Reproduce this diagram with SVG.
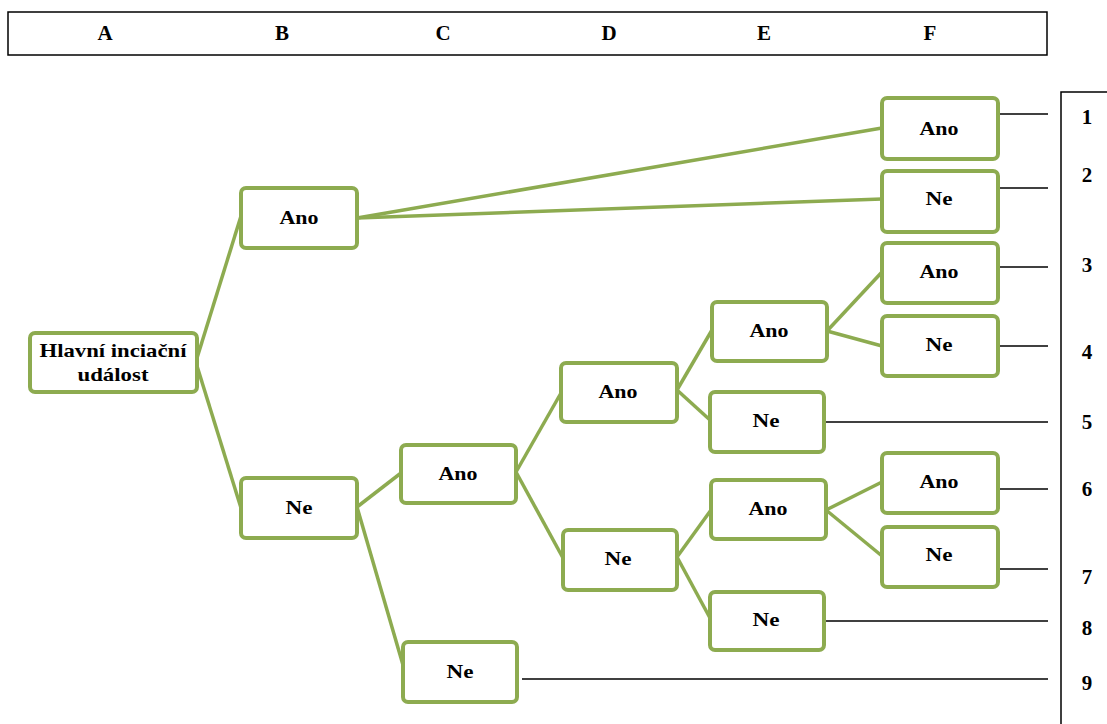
<svg xmlns="http://www.w3.org/2000/svg" width="1107" height="724" viewBox="0 0 1107 724" font-family="Liberation Serif, DejaVu Serif, serif" font-weight="bold">
<style>
.n rect{fill:#fff;stroke:#8dab50;stroke-width:4}
.t{font-size:19px;fill:#000;text-anchor:middle}
.h{font-size:21px;fill:#000;text-anchor:middle}
.g line{stroke:#8dab50;stroke-width:3.5}
.k line{stroke:#000;stroke-width:1.3}
</style>
<rect width="1107" height="724" fill="#fff"/>
<g id="header">
<rect x="8" y="12" width="1039" height="43" fill="none" stroke="#000" stroke-width="1.5"/>
<text class="h" x="105" y="40">A</text>
<text class="h" x="282" y="40">B</text>
<text class="h" x="443" y="40">C</text>
<text class="h" x="609" y="40">D</text>
<text class="h" x="764" y="40">E</text>
<text class="h" x="930" y="40">F</text>
</g>
<g id="outcomes">
<polyline points="1107,92 1061,92 1061,724" fill="none" stroke="#000" stroke-width="1.5"/>
<text class="h" x="1087" y="124">1</text>
<text class="h" x="1087" y="182">2</text>
<text class="h" x="1087" y="272">3</text>
<text class="h" x="1087" y="359">4</text>
<text class="h" x="1087" y="429">5</text>
<text class="h" x="1087" y="496">6</text>
<text class="h" x="1087" y="584">7</text>
<text class="h" x="1087" y="635">8</text>
<text class="h" x="1087" y="690">9</text>
</g>
<g id="connectors">
<g class="g">
<line x1="197" y1="358" x2="241" y2="216"/>
<line x1="197" y1="366" x2="241" y2="508"/>
<line x1="357" y1="218" x2="882" y2="128"/>
<line x1="357" y1="218" x2="882" y2="199"/>
<line x1="357" y1="507" x2="401" y2="473"/>
<line x1="357" y1="507" x2="403" y2="665"/>
<line x1="516" y1="472" x2="561" y2="393"/>
<line x1="516" y1="472" x2="563" y2="558"/>
<line x1="677" y1="390" x2="712" y2="330"/>
<line x1="677" y1="390" x2="710" y2="420"/>
<line x1="677" y1="557" x2="711" y2="510"/>
<line x1="677" y1="557" x2="710" y2="618"/>
<line x1="827" y1="331" x2="882" y2="272"/>
<line x1="827" y1="331" x2="882" y2="346"/>
<line x1="826" y1="510" x2="882" y2="482"/>
<line x1="826" y1="510" x2="882" y2="556"/>
</g>
<g class="k">
<line x1="998" y1="114" x2="1048" y2="114"/>
<line x1="998" y1="188" x2="1048" y2="188"/>
<line x1="998" y1="267" x2="1048" y2="267"/>
<line x1="998" y1="346" x2="1048" y2="346"/>
<line x1="824" y1="422" x2="1048" y2="422" stroke="#555"/>
<line x1="998" y1="489" x2="1048" y2="489"/>
<line x1="998" y1="569" x2="1048" y2="569"/>
<line x1="824" y1="621" x2="1048" y2="621" stroke="#555"/>
<line x1="522" y1="679" x2="1048" y2="679"/>
</g>
</g>
<g id="root" class="n"><rect x="30" y="333" width="167" height="59" rx="5"/><text class="t" x="113" y="357" textLength="147" lengthAdjust="spacingAndGlyphs">Hlavní inciační</text><text class="t" x="113" y="381" textLength="71" lengthAdjust="spacingAndGlyphs">událost</text></g>
<g id="b-ano" class="n"><rect x="241" y="188" width="116" height="60" rx="5"/><text class="t" x="299" y="224" textLength="39" lengthAdjust="spacingAndGlyphs">Ano</text></g>
<g id="b-ne" class="n"><rect x="241" y="478" width="116" height="60" rx="5"/><text class="t" x="299" y="514" textLength="27" lengthAdjust="spacingAndGlyphs">Ne</text></g>
<g id="c-ano" class="n"><rect x="401" y="445" width="115" height="58" rx="5"/><text class="t" x="458" y="480" textLength="39" lengthAdjust="spacingAndGlyphs">Ano</text></g>
<g id="c-ne" class="n"><rect x="403" y="642" width="114" height="60" rx="5"/><text class="t" x="460" y="678" textLength="27" lengthAdjust="spacingAndGlyphs">Ne</text></g>
<g id="d-ano" class="n"><rect x="561" y="363" width="116" height="59" rx="5"/><text class="t" x="618" y="398" textLength="39" lengthAdjust="spacingAndGlyphs">Ano</text></g>
<g id="d-ne" class="n"><rect x="563" y="530" width="114" height="60" rx="5"/><text class="t" x="618" y="565" textLength="27" lengthAdjust="spacingAndGlyphs">Ne</text></g>
<g id="e-ano1" class="n"><rect x="712" y="302" width="115" height="59" rx="5"/><text class="t" x="769" y="337" textLength="39" lengthAdjust="spacingAndGlyphs">Ano</text></g>
<g id="e-ne1" class="n"><rect x="710" y="392" width="114" height="60" rx="5"/><text class="t" x="766" y="427" textLength="27" lengthAdjust="spacingAndGlyphs">Ne</text></g>
<g id="e-ano2" class="n"><rect x="711" y="480" width="115" height="59" rx="5"/><text class="t" x="768" y="515" textLength="39" lengthAdjust="spacingAndGlyphs">Ano</text></g>
<g id="e-ne2" class="n"><rect x="710" y="592" width="114" height="58" rx="5"/><text class="t" x="766" y="626" textLength="27" lengthAdjust="spacingAndGlyphs">Ne</text></g>
<g id="f-ano1" class="n"><rect x="882" y="98" width="116" height="61" rx="5"/><text class="t" x="939" y="135" textLength="39" lengthAdjust="spacingAndGlyphs">Ano</text></g>
<g id="f-ne2" class="n"><rect x="882" y="171" width="116" height="61" rx="5"/><text class="t" x="939" y="205" textLength="27" lengthAdjust="spacingAndGlyphs">Ne</text></g>
<g id="f-ano3" class="n"><rect x="882" y="243" width="116" height="60" rx="5"/><text class="t" x="939" y="278" textLength="39" lengthAdjust="spacingAndGlyphs">Ano</text></g>
<g id="f-ne4" class="n"><rect x="882" y="316" width="116" height="60" rx="5"/><text class="t" x="939" y="351" textLength="27" lengthAdjust="spacingAndGlyphs">Ne</text></g>
<g id="f-ano6" class="n"><rect x="882" y="453" width="116" height="60" rx="5"/><text class="t" x="939" y="488" textLength="39" lengthAdjust="spacingAndGlyphs">Ano</text></g>
<g id="f-ne7" class="n"><rect x="882" y="527" width="116" height="60" rx="5"/><text class="t" x="939" y="561" textLength="27" lengthAdjust="spacingAndGlyphs">Ne</text></g>
</svg>
